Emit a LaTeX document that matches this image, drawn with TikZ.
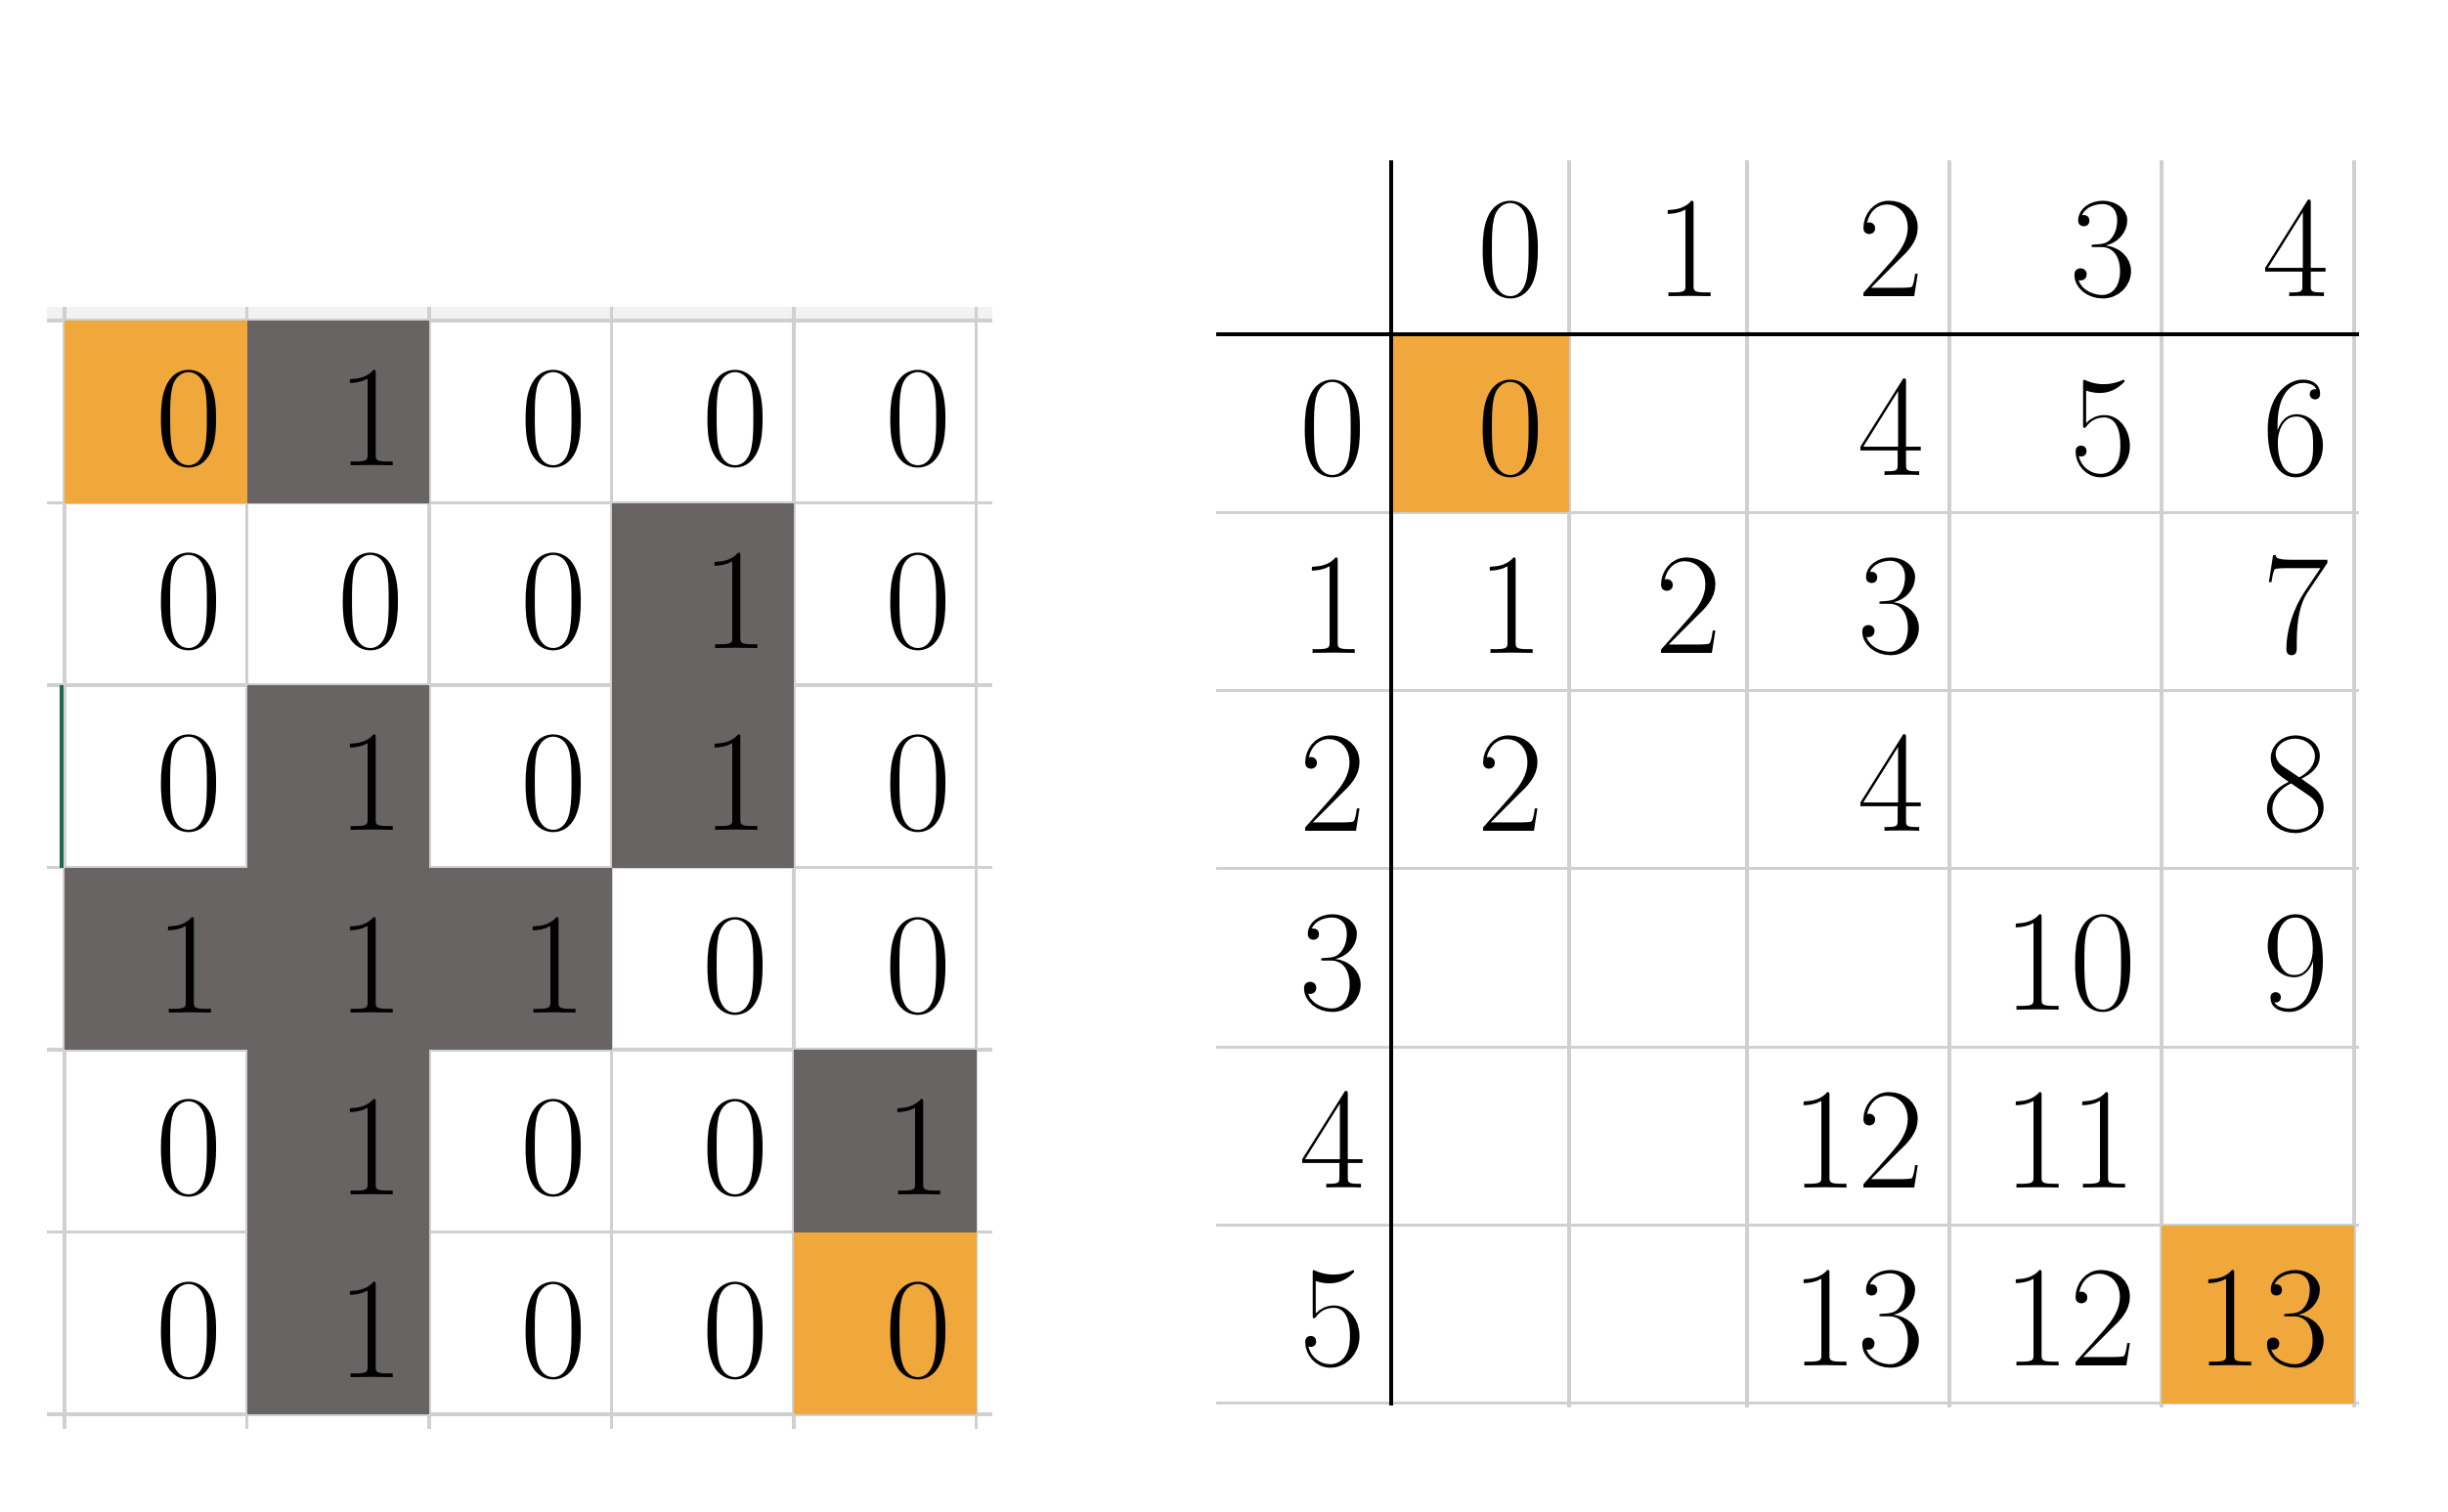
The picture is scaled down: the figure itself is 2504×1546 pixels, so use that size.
\documentclass[tikz,border=0pt]{standalone}
\usepackage{fontspec}
\definecolor{wall}{HTML}{686464}
\definecolor{goal}{HTML}{F0A73B}
\definecolor{rule}{HTML}{D0D0D0}
\definecolor{selmark}{HTML}{1D6A4C}
\tikzset{num/.style={anchor=base east,inner sep=0pt,font=\fontsize{42}{42}\selectfont},
  grid/.style={rule,line width=0.9pt},
  axis/.style={black,line width=0.9pt}}
\begin{document}
\begin{tikzpicture}[x=0.01cm,y=-0.01cm]
\useasboundingbox (0,0) rectangle (2504,1546);
% left: the maze
\fill[black!5] (48,314) rectangle (1015,326);
\foreach \x in {0,...,5} % vertical lines
\draw[grid] ({66+186.5*\x},314) -- ({66+186.5*\x},1462);
\foreach \y in {0,...,6} % horizontal lines
\draw[grid] (48,{328+186.5*\y}) -- (1015,{328+186.5*\y});
\foreach \y/\x in {0/1,1/3,2/1,2/3,3/0,3/1,3/2,4/1,4/4,5/1} % walls
\fill[wall] ({66+186.5*\x},{328+186.5*\y}) rectangle +(186.5,186.5);
\foreach \y/\x in {0/0,5/4} % start and end
\fill[goal] ({66+186.5*\x},{328+186.5*\y}) rectangle +(186.5,186.5);
\draw[selmark,line width=1.3pt] (63,{328+186.5*2}) -- (63,{328+186.5*3});
\foreach \vals [count=\y from 0] in {{0,1,0,0,0},{0,0,0,1,0},{0,1,0,1,0},{1,1,1,0,0},{0,1,0,0,1},{0,1,0,0,0}}
\foreach \v [count=\x from 0] in \vals
\node[num] (m-\y-\x) at ({66+186.5*(\x+1)-25},{328+186.5*(\y+1)-38}) {\v};
% right: the distances
\foreach \x in {1605,1787,1994,2211,2408}
\draw[grid] (\x,164) -- (\x,1440);
\foreach \y in {1,...,6}
\draw[grid] (1244,{342+182.3*\y}) -- (2413,{342+182.3*\y});
\fill[goal] (1423,342) rectangle (1605,524.3);
\fill[goal] (2211,1253.5) rectangle (2408,1435.8);
\draw[axis] (1244,342) -- (2413,342);
\draw[axis] (1423,164) -- (1423,1438);
\foreach \e [count=\x from 0] in {1605,1787,1994,2211,2408} % column labels
\node[num] (h-\x) at ({\e-25},304) {\x};
\foreach \y in {0,...,5} % row labels
\node[num] (r-\y) at (1398,{342+182.3*(\y+1)-38}) {\y};
\foreach \y/\x/\v in {0/0/0,0/2/4,0/3/5,0/4/6,1/0/1,1/1/2,1/2/3,1/4/7,2/0/2,2/2/4,2/4/8,
  3/3/10,3/4/9,4/2/12,4/3/11,5/2/13,5/3/12,5/4/13} {
\pgfmathsetmacro\e{{1605,1787,1994,2211,2408}[\x]}
\node[num] (d-\y-\x) at ({\e-25},{342+182.3*(\y+1)-38}) {\v};
}
\end{tikzpicture}
\end{document}
